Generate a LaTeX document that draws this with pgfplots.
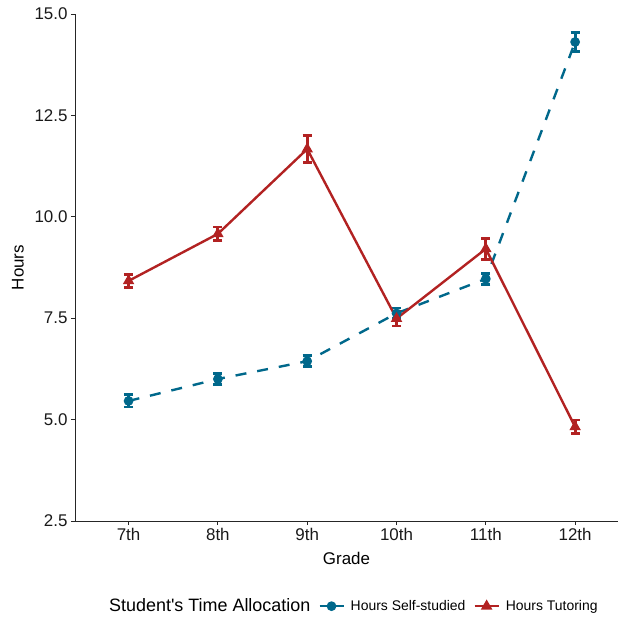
\documentclass[border=0pt]{standalone}
\usepackage{pgfplots}
\pgfplotsset{compat=1.18}
\usepackage{pgfplotstable}
\usepackage{fontspec}
\setmainfont{Liberation Sans}

\definecolor{selfblue}{RGB}{0,104,139}
\definecolor{tutorred}{RGB}{178,34,34}

% grade index, mean hours, standard error
\pgfplotstableread{
x y e
0 5.46 0.15
1 6.00 0.14
2 6.44 0.14
3 7.62 0.13
4 8.47 0.13
5 14.31 0.24
}\selfstudied

\pgfplotstableread{
x y e
0 8.42 0.165
1 9.58 0.17
2 11.67 0.34
3 7.49 0.18
4 9.21 0.26
5 4.82 0.17
}\tutoring

\begin{document}
\begin{tikzpicture}
\useasboundingbox (0,0) rectangle (618bp,618bp);
\begin{axis}[
  at={(75bp,97bp)}, anchor=south west,
  scale only axis, width=543bp, height=507bp,
  xmin=-0.6, xmax=5.48, ymin=2.5, ymax=15,
  axis x line=bottom, axis y line=left,
  axis line style={-, line width=0.9bp, black!85},
  xtick={0,...,5}, xticklabels={7th,8th,9th,10th,11th,12th},
  ytick={2.5,5,7.5,10,12.5,15},
  yticklabel style={/pgf/number format/.cd, fixed, fixed zerofill, precision=1},
  /pgf/number format/assume math mode=true,
  tick align=outside, major tick length=4bp,
  tick style={line width=0.9bp, black!85},
  ticklabel style={font=\fontsize{17}{20}\selectfont, text=black!90},
  xlabel=Grade, ylabel=Hours,
  label style={font=\fontsize{17}{20}\selectfont, text=black},
  xlabel style={at={(axis description cs:0.5,-0.073)}, anchor=center},
  ylabel style={at={(axis description cs:-0.105,0.5)}, anchor=center},
  legend style={at={(0.509,-0.168)}, anchor=center, draw=none, fill=none,
    legend columns=-1, font=\fontsize{14}{16}\selectfont,
    /tikz/every even column/.append style={column sep=6bp},
    /tikz/every odd column/.append style={column sep=4bp}},
  legend image code/.code={
    \draw[mark repeat=2, mark phase=2, #1, solid]
      plot coordinates {(0bp,0bp) (12bp,0bp) (24bp,0bp)};},
  error bars/y dir=both, error bars/y explicit,
]
\addlegendimage{empty legend}
\addlegendentry{\fontsize{18}{20}\selectfont Student\textquotesingle s Time Allocation}

\addplot[selfblue, line width=2.4bp, dash pattern=on 11bp off 11bp,
  mark=*, mark size=3.6bp, mark options={solid},
  error bars/error bar style={line width=2.8bp, solid},
  error bars/error mark options={rotate=90, mark size=4.6bp, line width=2.8bp, solid}]
  table[x=x, y=y, y error=e] {\selfstudied};
\addlegendentry{Hours Self-studied\hspace{12bp}}

\addplot[tutorred, line width=2.4bp,
  mark=triangle*, mark size=4.3bp, mark options={solid},
  error bars/error bar style={line width=2.8bp, solid},
  error bars/error mark options={rotate=90, mark size=4.6bp, line width=2.8bp, solid}]
  table[x=x, y=y, y error=e] {\tutoring};
\addlegendentry{Hours Tutoring}
\end{axis}
\end{tikzpicture}
\end{document}
